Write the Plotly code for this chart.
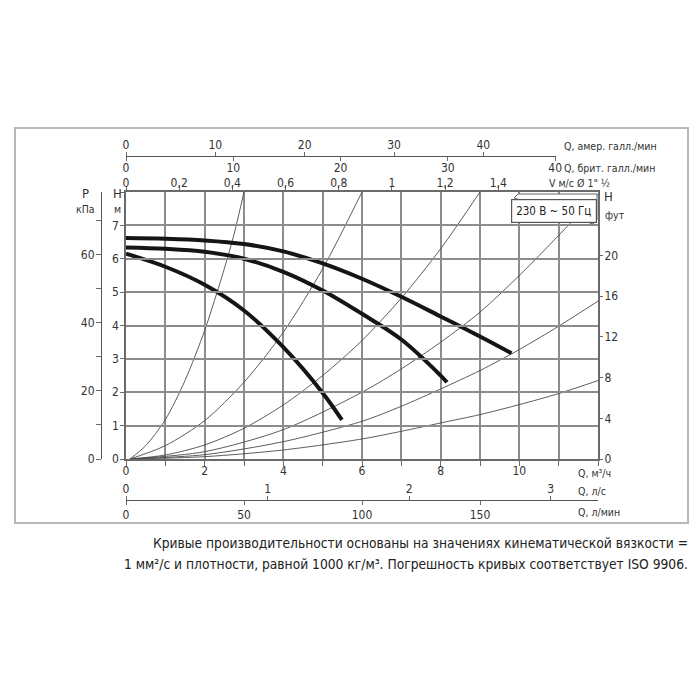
import plotly.graph_objects as go

# page body has an 8px margin: figure is 692x692 placed at (8, 8)
OFF = 8
FW = FH = 692
def PX(x): return (x - OFF) / FW
def PY(y): return (OFF + FH - y) / FH

FONT = "'Liberation Sans Narrow', 'DejaVu Sans Condensed', Roboto, sans-serif"

# ---------------- data ----------------
q_ticks = list(range(0, 13))                      # m3/h grid
q_labels = ["0", "", "2", "", "4", "", "6", "", "8", "", "10", "", ""]
h_ticks = list(range(0, 9))                        # m grid
h_labels = ["0", "1", "2", "3", "4", "5", "6", "7", ""]
p_ticks = [0, 10, 20, 30, 40, 50, 60, 70]          # kPa
p_labels = ["0", "", "20", "", "40", "", "60", ""]
ft_ticks = [0, 4, 8, 12, 16, 20]                   # ft
v_ticks = [0, 0.2, 0.4, 0.6, 0.8, 1.0, 1.2, 1.4]   # m/s
v_labels = ["0", "0,2", "0,4", "0,6", "0,8", "1", "1,2", "1,4"]
us_ticks = [0, 10, 20, 30, 40]
imp_ticks = [0, 10, 20, 30, 40]
ls_ticks = [0, 1, 2, 3]
lmin_ticks = [0, 50, 100, 150]

# pump curves (Q m3/h, H m)
pump_top_q = [0, 1, 2, 3, 4, 5, 6, 7, 8, 9, 9.8]
pump_top_h = [6.62, 6.60, 6.55, 6.44, 6.22, 5.86, 5.40, 4.86, 4.27, 3.67, 3.17]
pump_mid_q = [0, 1, 2, 3, 4, 5, 6, 7, 8, 8.16]
pump_mid_h = [6.34, 6.30, 6.21, 6.00, 5.61, 5.05, 4.35, 3.58, 2.50, 2.30]
pump_low_q = [0, 1, 2, 3, 4, 5, 5.49]
pump_low_h = [6.15, 5.76, 5.22, 4.45, 3.35, 1.98, 1.17]

# system curves
sys_a_q = [0.1, 0.5, 1.0, 1.5, 2.0, 2.25, 2.5, 2.75, 3.0]
sys_a_h = [0, 0.40, 1.18, 2.35, 3.85, 4.75, 5.70, 6.75, 8.0]
sys_b_q = [0.1, 1, 2, 3, 4, 5, 6]
sys_b_h = [0, 0.40, 1.15, 2.30, 3.80, 5.70, 8.0]
sys_c_q = [0.1, 1, 2, 3, 4, 5, 6, 7, 8, 9]
sys_c_h = [0, 0.12, 0.42, 0.92, 1.62, 2.50, 3.55, 4.82, 6.30, 8.0]
sys_d_q = [0.1, 2, 4, 6, 7, 8, 9, 10, 11, 12]
sys_d_h = [0, 0.22, 0.88, 2.0, 2.7, 3.5, 4.4, 5.5, 6.7, 7.95]
sys_e_q = [0.1, 2, 4, 6, 7, 8, 9, 10, 11, 12]
sys_e_h = [0, 0.13, 0.52, 1.13, 1.58, 2.1, 2.65, 3.28, 3.98, 4.73]
sys_f_q = [0.1, 2, 4, 6, 7, 8, 9, 10, 11, 12]
sys_f_h = [0, 0.07, 0.27, 0.6, 0.83, 1.08, 1.33, 1.63, 1.96, 2.35]

# unit conversions
Q_MAX = 12.0
H_MAX = 8.0
KPA_PER_M = 9.80665
FT_PER_M = 3.28084
M3H_PER_MS = 6.76
M3H_PER_USGPM = 0.227125
M3H_PER_IMPGPM = 0.272765
M3H_PER_LS = 3.6
M3H_PER_LMIN = 0.06

# ---------------- figure ----------------
fig = go.Figure()

GRID = "#8c8c8c"
AX = "#6a6a6a"
TXT = "#333333"
TF = dict(family=FONT, size=12, color=TXT)

sys_curves = [(sys_a_q, sys_a_h), (sys_b_q, sys_b_h), (sys_c_q, sys_c_h),
              (sys_d_q, sys_d_h), (sys_e_q, sys_e_h), (sys_f_q, sys_f_h)]
for q, h in sys_curves:
    fig.add_trace(go.Scatter(x=q, y=h, mode="lines",
                             line=dict(color="#4a4a4a", width=0.9, shape="spline", smoothing=0.8),
                             hoverinfo="skip", showlegend=False))

for q, h in [(pump_top_q, pump_top_h), (pump_mid_q, pump_mid_h), (pump_low_q, pump_low_h)]:
    fig.add_trace(go.Scatter(x=q, y=h, mode="lines",
                             line=dict(color="#151515", width=4, shape="spline", smoothing=1.0),
                             hoverinfo="skip", showlegend=False))

# dummy traces to activate extra axes
def dummy(xa, ya):
    fig.add_trace(go.Scatter(x=[0], y=[0], xaxis=xa, yaxis=ya, mode="markers",
                             marker=dict(opacity=0, size=1), hoverinfo="skip", showlegend=False))
for xa in ["x2", "x3", "x4", "x5", "x6"]:
    dummy(xa, "y")
for ya in ["y2", "y3"]:
    dummy("x", ya)

x_dom = [PX(126), PX(598)]
y_dom = [PY(459), PY(192)]
top_end_px = 556
q_top_end = (top_end_px - 126) / ((598 - 126) / Q_MAX)

def common(standoff=0):
    return dict(tickfont=TF, automargin=False, zeroline=False, tickcolor=AX, tickwidth=1.2,
                ticklabelstandoff=standoff)

fig.update_layout(
    width=FW, height=FH, margin=dict(l=0, r=0, t=0, b=0),
    paper_bgcolor="white", plot_bgcolor="rgba(0,0,0,0)", showlegend=False,
    xaxis=dict(domain=x_dom, range=[0, Q_MAX], anchor="y", tickmode="array", tickvals=q_ticks, ticktext=q_labels,
               ticks="outside", ticklen=5, showgrid=True, gridcolor=GRID, gridwidth=1.6,
               showline=True, linecolor=AX, linewidth=1.5, mirror=True, **common(-5)),
    yaxis=dict(domain=y_dom, range=[0, H_MAX], anchor="x", tickmode="array", tickvals=h_ticks, ticktext=h_labels,
               ticks="outside", ticklen=4, showgrid=True, gridcolor=GRID, gridwidth=1.6,
               showline=True, linecolor=AX, linewidth=1.5, mirror=True, **common(-1)),
    yaxis2=dict(overlaying="y", anchor="free", position=PX(101), side="left",
                range=[0, H_MAX * KPA_PER_M], tickmode="array", tickvals=p_ticks, ticktext=p_labels,
                ticks="outside", ticklen=5, showgrid=False, showline=True, linecolor="#555", linewidth=1.2,
                **common(-1)),
    yaxis3=dict(overlaying="y", anchor="x", side="right",
                range=[0, H_MAX * FT_PER_M], tickmode="array", tickvals=ft_ticks,
                ticks="outside", ticklen=4, showgrid=False, showline=False, **common(-1)),
    xaxis2=dict(overlaying="x", anchor="y", side="top",
                range=[0, Q_MAX / M3H_PER_MS], tickmode="array", tickvals=v_ticks, ticktext=v_labels,
                ticks="outside", ticklen=5, showgrid=False, showline=False, **common(-6)),
    xaxis3=dict(domain=[PX(126), PX(top_end_px)], anchor="free", position=PY(156), side="top",
                range=[0, q_top_end / M3H_PER_USGPM], tickmode="array", tickvals=us_ticks,
                ticks="outside", ticklen=4, showgrid=False, showline=True, linecolor="#555", linewidth=1.2,
                **common(-2)),
    xaxis4=dict(domain=[PX(126), PX(top_end_px)], anchor="free", position=PY(156), side="bottom",
                range=[0, q_top_end / M3H_PER_IMPGPM], tickmode="array", tickvals=imp_ticks,
                ticks="outside", ticklen=4, showgrid=False, showline=False, **common(-3)),
    xaxis5=dict(domain=x_dom, anchor="free", position=PY(500), side="top",
                range=[0, Q_MAX / M3H_PER_LS], tickmode="array", tickvals=ls_ticks,
                ticks="outside", ticklen=4, showgrid=False, showline=True, linecolor="#555", linewidth=1.2,
                **common(-2)),
    xaxis6=dict(domain=x_dom, anchor="free", position=PY(500), side="bottom",
                range=[0, Q_MAX / M3H_PER_LMIN], tickmode="array", tickvals=lmin_ticks,
                ticks="outside", ticklen=4, showgrid=False, showline=False, **common(0)),
)

# frame and box shadow
fig.add_shape(type="rect", xref="paper", yref="paper", x0=PX(15), x1=PX(688), y0=PY(523), y1=PY(128),
              line=dict(color="#b8b8b8", width=2), layer="below")
fig.add_shape(type="path", xref="paper", yref="paper",
              path=f"M {PX(514)} {PY(198)} L {PX(518)} {PY(194)} L {PX(597)} {PY(194)} L {PX(597)} {PY(220)} L {PX(593)} {PY(224)} Z",
              line=dict(color="#666", width=1), fillcolor="white", layer="above")

def label(text, x, y, xanchor="left", size=12, color=TXT):
    fig.add_annotation(text=text, x=PX(x), y=PY(y), xref="paper", yref="paper", showarrow=False,
                       xanchor=xanchor, yanchor="middle", font=dict(family=FONT, size=size, color=color))

label("Q, амер. галл./мин", 562, 146, size=10.5)
label("Q, брит. галл./мин", 562, 168, size=10.5)
label("V м/с Ø 1\" ½", 547, 183, size=10.5)
label("P", 85, 193, "center", 13)
label("кПа", 85, 209, "center", 10.5)
label("H", 117, 193, "center", 13)
label("м", 117, 209, "center", 10.5)
label("H", 602, 196, "left", 13)
label("фут", 603, 215, "left", 10.5)
label("Q, м³/ч", 576, 473, size=10.5)
label("Q, л/с", 576, 491, size=10.5)
label("Q, л/мин", 576, 512, size=10.5)

fig.add_annotation(text="230 В ~ 50 Гц", x=PX(553.5), y=PY(211), xref="paper", yref="paper", showarrow=False,
                   xanchor="center", yanchor="middle", font=dict(family=FONT, size=11.5, color="#222"),
                   bgcolor="white", bordercolor="#555", borderwidth=1.2, borderpad=4)

label("Кривые производительности основаны на значениях кинематической вязкости =", 690, 543, "right", 13.7, "#222")
label("1 мм²/с и плотности, равной 1000 кг/м³. Погрешность кривых соответствует ISO 9906.", 690, 564, "right", 13.7, "#222")

fig.write_html("out.html")
